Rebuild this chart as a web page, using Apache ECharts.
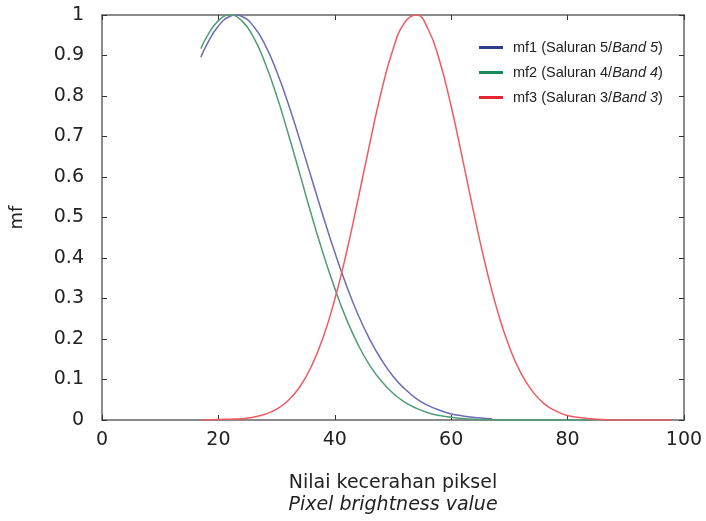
<!DOCTYPE html>
<html>
<head>
    <meta charset="utf-8">
    <script src="https://cdn.jsdelivr.net/npm/echarts@6/dist/echarts.min.js"></script>
    <style type="text/css">
        html, body { width: 100%; height: 100%; margin: 0; background: #fff; }
        #chart { width: 706px; height: 521px; }
    </style>
</head>
<body>
<div id="chart"></div>
<script type="text/javascript">
    // nilai: [piksel, mf]
    var mf1 = [[17,0.896],[18,0.927],[20,0.973],[22,0.997],[23,1],[24,0.997],[26,0.973],[28,0.927],
        [30,0.861],[32,0.781],[34,0.691],[36,0.597],[38,0.503],[40,0.414],[42,0.332],[44,0.26],
        [46,0.199],[48,0.149],[50,0.108],[52,0.077],[54,0.053],[56,0.036],[58,0.024],[60,0.015],
        [62,0.01],[64,0.006],[66,0.004],[67,0.003]];
    var mf2 = [[17,0.917],[18,0.946],[20,0.986],[22,1],[24,0.986],[26,0.946],[28,0.882],[30,0.801],
        [32,0.707],[34,0.607],[36,0.506],[38,0.411],[40,0.325],[42,0.249],[44,0.186],[46,0.135],
        [48,0.096],[50,0.066],[52,0.044],[54,0.029],[56,0.018],[58,0.011],[60,0.007],[62,0.004],
        [64,0.002],[66,0.001],[70,0],[76,0],[84,0]];
    var mf3 = [[17,0],[20,0.001],[22,0.002],[24,0.003],[26,0.007],[28,0.014],[30,0.027],[32,0.048],
        [34,0.082],[36,0.133],[38,0.204],[40,0.298],[42,0.413],[44,0.545],[46,0.682],[48,0.811],
        [50,0.915],[52,0.981],[54,1],[56,0.966],[58,0.887],[60,0.774],[62,0.641],[64,0.504],
        [66,0.376],[68,0.267],[70,0.18],[72,0.115],[74,0.07],[76,0.04],[78,0.022],[80,0.011],
        [82,0.006],[84,0.003],[86,0.001],[88,0],[92,0],[98,0]];
    var names = ['mf1', 'mf2', 'mf3'];
    var bands = ['5', '4', '3'];

    var axisFont = 'DejaVu Sans';
    var legendFont = '"Liberation Sans Narrow", "Liberation Sans", sans-serif';

    var frameAxis = {
        axisLine: { show: true, onZero: false, lineStyle: { color: '#666', width: 1.5 } },
        axisTick: { show: true, inside: true, length: 5, lineStyle: { color: '#333', width: 1 } },
        axisLabel: { show: false },
        splitLine: { show: false }
    };

    var option = {
        backgroundColor: '#fff',
        animation: false,
        grid: { left: 102, right: 22, top: 15, bottom: 101 },
        legend: {
            orient: 'vertical',
            left: 474,
            top: 35,
            itemGap: 10,
            itemWidth: 24,
            itemHeight: 3,
            icon: 'rect',
            data: [
                { name: 'mf1', itemStyle: { color: '#2f3d8f' } },
                { name: 'mf2', itemStyle: { color: '#1a8a5c' } },
                { name: 'mf3', itemStyle: { color: '#e52531' } }
            ],
            formatter: function (n) {
                var b = bands[names.indexOf(n)];
                return '{g|}{a|' + n + ' (Saluran ' + b + '/}{b|Band ' + b + '}{a|)}';
            },
            textStyle: {
                rich: {
                    g: { width: 5 },
                    a: { fontFamily: legendFont, fontSize: 14.5, color: '#222' },
                    b: { fontFamily: legendFont, fontSize: 14.5, fontStyle: 'italic', color: '#222' }
                }
            }
        },
        xAxis: [
            Object.assign({}, frameAxis, {
                type: 'value', min: 0, max: 100, interval: 20,
                axisLabel: { show: true, margin: 11, fontFamily: axisFont, fontSize: 19, color: '#222' },
                name: '{a|Nilai kecerahan piksel}\n{b|Pixel brightness value}',
                nameLocation: 'middle',
                nameGap: 52,
                nameTextStyle: {
                    rich: {
                        a: { fontFamily: axisFont, fontSize: 19, color: '#222', lineHeight: 22 },
                        b: { fontFamily: axisFont, fontSize: 19, fontStyle: 'italic', color: '#222', lineHeight: 22 }
                    }
                }
            }),
            Object.assign({}, frameAxis, { type: 'value', min: 0, max: 100, interval: 20, position: 'top' })
        ],
        yAxis: [
            Object.assign({}, frameAxis, {
                type: 'value', min: 0, max: 1, interval: 0.1,
                axisLabel: { show: true, margin: 18, fontFamily: axisFont, fontSize: 19, color: '#222' },
                name: 'mf',
                nameLocation: 'middle',
                nameGap: 76,
                nameTextStyle: { fontFamily: axisFont, fontSize: 18, color: '#222' }
            }),
            Object.assign({}, frameAxis, { type: 'value', min: 0, max: 1, interval: 0.1, position: 'right' })
        ],
        series: [
            { name: 'mf1', type: 'line', data: mf1, smooth: true, showSymbol: false,
              lineStyle: { color: '#6a6db3', width: 1.5 }, itemStyle: { color: '#2f3d8f' } },
            { name: 'mf2', type: 'line', data: mf2, smooth: true, showSymbol: false,
              lineStyle: { color: '#4f9d76', width: 1.5 }, itemStyle: { color: '#1a8a5c' } },
            { name: 'mf3', type: 'line', data: mf3, smooth: true, showSymbol: false,
              lineStyle: { color: '#f05a62', width: 1.5 }, itemStyle: { color: '#e52531' } }
        ]
    };

    var myChart = echarts.init(document.getElementById('chart'));
    myChart.setOption(option);
</script>
</body>
</html>
